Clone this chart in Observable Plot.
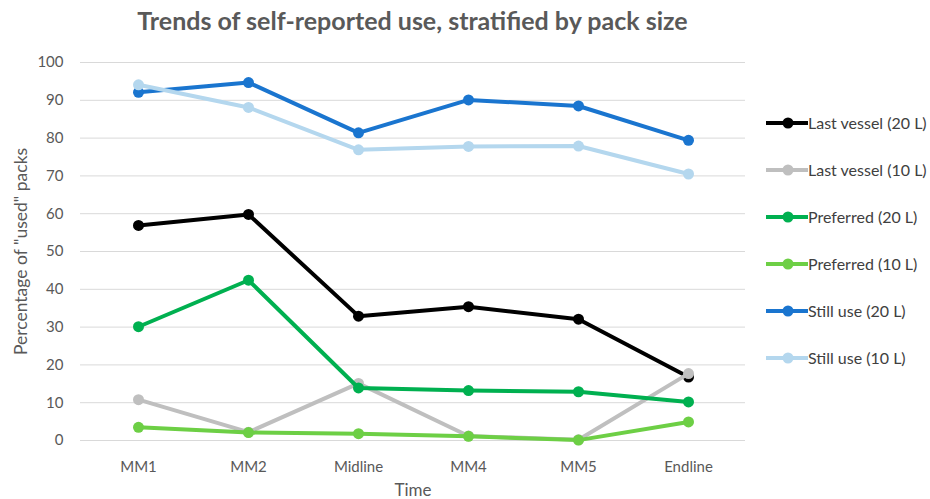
<!DOCTYPE html>
<html>
<head>
<meta charset="utf-8">
<script src="https://cdn.jsdelivr.net/npm/d3@7"></script>
<script src="https://cdn.jsdelivr.net/npm/@observablehq/plot@0.6"></script>
<style>
  html, body { margin: 0; padding: 0; background: #fff; }
  #wrap { position: relative; width: 930px; height: 499px; font-family: Lato, "Open Sans", sans-serif; }
  #title { position: absolute; left: 80px; width: 665px; top: 5px; text-align: center; font-weight: bold; font-size: 25px; color: #595959; }
  #legend { position: absolute; left: 765px; top: 99px; font-size: 16px; color: #404040; white-space: nowrap; }
  .item { display: flex; align-items: center; height: 47px; }
  .item svg { margin-right: 0px; }
</style>
</head>
<body>
<div id="wrap">
  <div id="chart"></div>
  <div id="title">Trends of self-reported use, stratified by pack size</div>
  <div id="legend"></div>
</div>
<script>
const times = ["MM1", "MM2", "Midline", "MM4", "MM5", "Endline"];
const seriesNames = ["Last vessel (20 L)", "Last vessel (10 L)", "Preferred (20 L)", "Preferred (10 L)", "Still use (20 L)", "Still use (10 L)"];
const seriesColors = ["#000000", "#bfbfbf", "#00b050", "#6dcf45", "#1a75cf", "#b4d7ee"];
const lastVessel20 = [56.9, 59.8, 32.9, 35.4, 32.1, 16.8];
const lastVessel10 = [10.8, 2.2, 15.1, 1.2, 0.2, 17.7];
const preferred20 = [30.1, 42.4, 13.9, 13.2, 12.9, 10.2];
const preferred10 = [3.5, 2.1, 1.8, 1.1, 0.1, 4.9];
const stillUse20 = [92.1, 94.7, 81.4, 90.1, 88.5, 79.4];
const stillUse10 = [94.1, 88.1, 76.9, 77.8, 77.9, 70.5];
const yTicks = [0, 10, 20, 30, 40, 50, 60, 70, 80, 90, 100];

const seriesValues = [lastVessel20, lastVessel10, preferred20, preferred10, stillUse20, stillUse10];
const rows = seriesNames.map((name, i) => times.map((t, j) => ({series: name, time: t, value: seriesValues[i][j]})));

const marks = [
  Plot.ruleY(yTicks, {stroke: "#d9d9d9", strokeWidth: 1}),
  Plot.axisY({ticks: yTicks, tickSize: 0, tickPadding: 17, fontSize: 15, label: null}),
  Plot.axisY({ticks: [], tickSize: 0, fontSize: 17.5, label: "Percentage of \"used\" packs", labelAnchor: "center", labelArrow: "none", labelOffset: 66}),
  Plot.axisX({tickSize: 0, tickPadding: 21, fontSize: 15, label: null}),
  Plot.axisX({ticks: [], tickSize: 0, fontSize: 17, label: "Time", labelAnchor: "center", labelArrow: "none", labelOffset: 55})
];
rows.forEach((r, i) => {
  marks.push(Plot.lineY(r, {x: "time", y: "value", stroke: seriesColors[i], strokeWidth: 4, strokeLinejoin: "round", strokeLinecap: "round"}));
  marks.push(Plot.dot(r, {x: "time", y: "value", fill: seriesColors[i], r: 5.5}));
});

const chart = Plot.plot({
  width: 930,
  height: 499,
  marginLeft: 80,
  marginRight: 185,
  marginTop: 62,
  marginBottom: 59,
  style: {fontFamily: "Lato, 'Open Sans', sans-serif", fontSize: "15px", color: "#595959", background: "white"},
  x: {type: "point", domain: times, padding: 0.5},
  y: {domain: [0, 100]},
  marks
});
document.getElementById("chart").appendChild(chart);

const legend = document.getElementById("legend");
seriesNames.forEach((name, i) => {
  const item = document.createElement("div");
  item.className = "item";
  item.innerHTML = `<svg width="43" height="14"><line x1="1" y1="7" x2="43" y2="7" stroke="${seriesColors[i]}" stroke-width="4"/><circle cx="23" cy="7" r="5.5" fill="${seriesColors[i]}"/></svg><span>${name}</span>`;
  legend.appendChild(item);
});
</script>
</body>
</html>
